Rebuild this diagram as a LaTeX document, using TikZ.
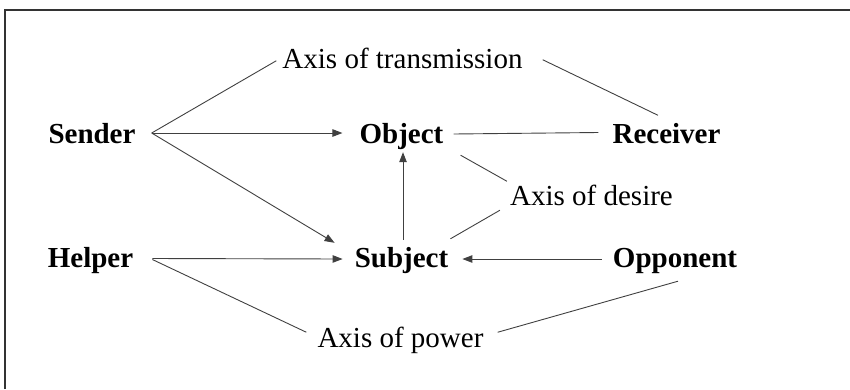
\documentclass[tikz,border=0pt]{standalone}
\usepackage{fontspec}
\setmainfont{Liberation Serif}
\usetikzlibrary{arrows.meta}
\begin{document}
\begin{tikzpicture}[x=1pt,y=-1pt,
  actor/.style={font=\fontsize{29}{34}\selectfont\bfseries, inner sep=0pt, text height=20pt, text depth=0pt, anchor=base},
  axislbl/.style={font=\fontsize{29}{34}\selectfont, inner sep=0pt, text height=19.5pt, text depth=0pt, anchor=base},
  conn/.style={draw=black!75, line width=0.9pt},
  arr/.style={conn, -{Triangle[length=10pt,width=7.5pt]}},
  frame/.style={draw=black!80, line width=2pt}]
\useasboundingbox (0,0) rectangle (850,389);
\draw[frame] (5,389) -- (5,9.5) -- (850,9.5);

\node[actor] (sender) at (92,143) {Sender};
\node[actor] (object) at (401.5,143) {Object};
\node[actor] (receiver) at (666.5,143.5) {Receiver};
\node[actor] (helper) at (90.5,267.5) {Helper};
\node[actor] (subject) at (401.5,267) {Subject};
\node[actor] (opponent) at (675,267) {Opponent};
\node[axislbl] (axtr) at (402.5,68) {Axis of transmission};
\node[axislbl] (axdes) at (591.5,205) {Axis of desire};
\node[axislbl] (axpow) at (400.5,347) {Axis of power};

% axis of transmission
\draw[conn] ([shift={(16,0)}]sender.east) -- ([shift={(-6,2.5)}]axtr.west);
\draw[conn] ([shift={(20,1.5)}]axtr.east) -- ([shift={(-8.5,-8)}]receiver.north);
% sender arrows
\draw[arr] ([shift={(16,0)}]sender.east) -- ([shift={(-17,0)}]object.west);
\draw[arr] ([shift={(16,0)}]sender.east) -- ([shift={(-20,-4)}]subject.north west);
% object - receiver
\draw[conn] ([shift={(10,1)}]object.east) -- ([shift={(-14,-1)}]receiver.west);
% axis of desire
\draw[conn] ([shift={(17,12)}]object.south east) -- ([shift={(-3,-4)}]axdes.north west);
\draw[conn] ([shift={(-10,5)}]axdes.south west) -- ([shift={(2,-8)}]subject.north east);
% subject -> object
\draw[arr] ([shift={(1.5,-7)}]subject.north) -- ([shift={(1.5,9)}]object.south);
% helper / opponent arrows
\draw[arr] ([shift={(19,1)}]helper.east) -- ([shift={(-12,2)}]subject.west);
\draw[arr] ([shift={(-11,2)}]opponent.west) -- ([shift={(14,2)}]subject.east);
% axis of power
\draw[conn] ([shift={(19,2)}]helper.east) -- ([shift={(-11,-5)}]axpow.west);
\draw[conn] ([shift={(14,-5)}]axpow.east) -- ([shift={(3,14)}]opponent.south);
\end{tikzpicture}
\end{document}
